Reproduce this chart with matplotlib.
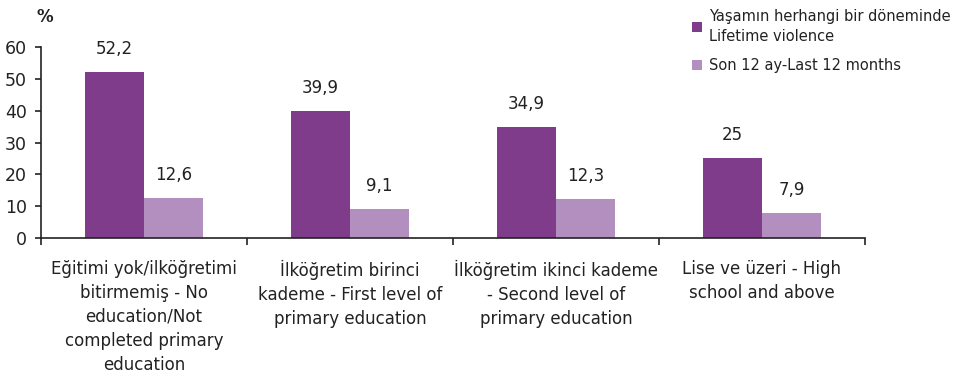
import numpy as np
import matplotlib.pyplot as plt

categories = [
    "Eğitimi yok/ilköğretimi\nbitirmemiş - No\neducation/Not\ncompleted primary\neducation",
    "İlköğretim birinci\nkademe - First level of\nprimary education",
    "İlköğretim ikinci kademe\n- Second level of\nprimary education",
    "Lise ve üzeri - High\nschool and above",
]
lifetime = [52.2, 39.9, 34.9, 25]
last_12 = [12.6, 9.1, 12.3, 7.9]
series_names = ["Yaşamın herhangi bir döneminde\nLifetime violence",
                "Son 12 ay-Last 12 months"]

dark = "#7e3c8b"
light = "#b28fbe"

plt.rcParams['font.family'] = ['DejaVu Sans']
fig = plt.figure(figsize=(9.56, 3.8), dpi=100)
ax = fig.add_axes([41 / 956, 1 - 238 / 380, 824 / 956, 191 / 380])

x = np.arange(len(categories))
w = 0.286
b1 = ax.bar(x - w / 2, lifetime, w, color=dark, label=series_names[0])
b2 = ax.bar(x + w / 2, last_12, w, color=light, label=series_names[1])

for bars, vals in ((b1, lifetime), (b2, last_12)):
    for r, v in zip(bars, vals):
        txt = str(v).replace(".", ",")
        ax.text(r.get_x() + r.get_width() / 2, v + 4.5, txt,
                ha="center", va="bottom", fontsize=12, color="#222222")

ax.set_xlim(-0.5, len(categories) - 0.5)
ax.set_ylim(0, 60)
ax.set_yticks(range(0, 61, 10))
ax.tick_params(axis="y", labelsize=12.5, length=4, width=1.2, direction="out",
               colors="#222222", pad=6)

# group separators as x ticks, labels as minor ticks
ax.set_xticks(np.arange(-0.5, len(categories), 1))
ax.set_xticklabels([])
ax.tick_params(axis="x", which="major", length=5, width=1.2, direction="out",
               colors="#222222")
ax.set_xticks(x, minor=True)
ax.set_xticklabels(categories, minor=True, fontsize=12, linespacing=1.42)
ax.tick_params(axis="x", which="minor", length=0, pad=16, colors="#222222")

for s in ("top", "right"):
    ax.spines[s].set_visible(False)
for s in ("left", "bottom"):
    ax.spines[s].set_linewidth(1.2)
    ax.spines[s].set_color("#222222")

ax.text(0.005, 1.11, "%", transform=ax.transAxes, ha="center", va="bottom",
        fontsize=12, fontweight="bold", color="#222222")

leg = fig.legend(loc="upper left", bbox_to_anchor=(683 / 956, 1.0), frameon=False,
                 fontsize=10.5, handlelength=0.7, handleheight=0.7,
                 handletextpad=0.5, labelspacing=1.0, borderaxespad=0.2)
for t in leg.get_texts():
    t.set_linespacing(1.4)
    t.set_color("#222222")

fig.savefig("out.png", dpi=100)
